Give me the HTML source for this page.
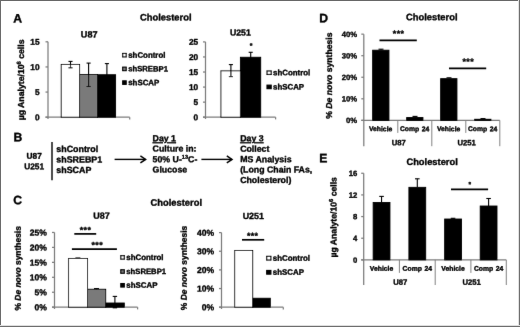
<!DOCTYPE html>
<html lang="en">
<head>
<meta charset="utf-8">
<title>Cholesterol figure</title>
<style>
html,body{margin:0;padding:0;background:#fff;}
body{width:520px;height:327px;overflow:hidden;position:relative;}
svg{position:absolute;left:0;top:0;display:block;}
svg text{font-family:"Liberation Sans", Arial, Helvetica, sans-serif;font-weight:bold;fill:#000;stroke:#000;stroke-width:0.36px;stroke-linejoin:round;text-rendering:geometricPrecision;}
</style>
</head>
<body>
<svg width="520" height="327" viewBox="0 0 520 327">
<defs><filter id="soft" x="0" y="0" width="520" height="327" filterUnits="userSpaceOnUse"><feConvolveMatrix order="3" kernelMatrix="0.0035 0.0521 0.0035 0.0521 0.7778 0.0521 0.0035 0.0521 0.0035" edgeMode="none"/></filter></defs>
<g filter="url(#soft)">
<text x="13.30" y="22.47" transform="rotate(0.04 13.30 22.47)" font-size="12.2" text-anchor="start" >A</text>
<text x="13.40" y="141.27" transform="rotate(0.04 13.40 141.27)" font-size="12.2" text-anchor="start" >B</text>
<text x="13.30" y="204.27" transform="rotate(0.04 13.30 204.27)" font-size="12.2" text-anchor="start" >C</text>
<text x="319.30" y="22.17" transform="rotate(0.04 319.30 22.17)" font-size="12.2" text-anchor="start" >D</text>
<text x="319.30" y="162.17" transform="rotate(0.04 319.30 162.17)" font-size="12.2" text-anchor="start" >E</text>
<text x="165.80" y="20.55" transform="rotate(0.04 165.80 20.55)" font-size="9.35" text-anchor="middle" >Cholesterol</text>
<text x="176.30" y="205.85" transform="rotate(0.04 176.30 205.85)" font-size="9.35" text-anchor="middle" >Cholesterol</text>
<text x="431.80" y="20.35" transform="rotate(0.04 431.80 20.35)" font-size="9.35" text-anchor="middle" >Cholesterol</text>
<text x="432.10" y="165.05" transform="rotate(0.04 432.10 165.05)" font-size="9.35" text-anchor="middle" >Cholesterol</text>
<text x="89.20" y="37.46" transform="rotate(0.04 89.20 37.46)" font-size="9.1" text-anchor="middle" >U87</text>
<text x="240.40" y="35.41" transform="rotate(0.04 240.40 35.41)" font-size="8.7" text-anchor="middle" >U251</text>
<text x="101.40" y="218.82" transform="rotate(0.04 101.40 218.82)" font-size="9.0" text-anchor="middle" >U87</text>
<text x="253.30" y="218.99" transform="rotate(0.04 253.30 218.99)" font-size="8.9" text-anchor="middle" >U251</text>
<line x1="48.00" y1="41.81" x2="48.00" y2="119.00" stroke="#7c7c7c" stroke-width="1.25" />
<line x1="45.50" y1="117.20" x2="129.70" y2="117.20" stroke="#7c7c7c" stroke-width="1.25" />
<line x1="129.70" y1="117.20" x2="129.70" y2="119.40" stroke="#7c7c7c" stroke-width="1.25" />
<line x1="45.50" y1="117.20" x2="48.00" y2="117.20" stroke="#7c7c7c" stroke-width="1.25" />
<text x="39.60" y="120.17" transform="rotate(0.04 39.60 120.17)" font-size="8.3" text-anchor="end" >0</text>
<line x1="45.50" y1="92.07" x2="48.00" y2="92.07" stroke="#7c7c7c" stroke-width="1.25" />
<text x="39.60" y="95.04" transform="rotate(0.04 39.60 95.04)" font-size="8.3" text-anchor="end" >5</text>
<line x1="45.50" y1="66.94" x2="48.00" y2="66.94" stroke="#7c7c7c" stroke-width="1.25" />
<text x="39.60" y="69.91" transform="rotate(0.04 39.60 69.91)" font-size="8.3" text-anchor="end" >10</text>
<line x1="45.50" y1="41.81" x2="48.00" y2="41.81" stroke="#7c7c7c" stroke-width="1.25" />
<text x="39.60" y="44.78" transform="rotate(0.04 39.60 44.78)" font-size="8.3" text-anchor="end" >15</text>
<rect x="61.20" y="64.43" width="18.40" height="52.77" fill="#fff" stroke="#000" stroke-width="0.9"/>
<rect x="79.60" y="74.48" width="17.90" height="42.72" fill="#7a7a7a" stroke="#000" stroke-width="0.9"/>
<rect x="97.50" y="74.73" width="18.10" height="42.47" fill="#000" stroke="#000" stroke-width="0.9"/>
<line x1="70.50" y1="61.40" x2="70.50" y2="67.80" stroke="#000" stroke-width="1.1" />
<line x1="68.45" y1="61.40" x2="72.55" y2="61.40" stroke="#000" stroke-width="1.1" />
<line x1="68.45" y1="67.80" x2="72.55" y2="67.80" stroke="#000" stroke-width="1.1" />
<line x1="88.60" y1="63.10" x2="88.60" y2="86.50" stroke="#000" stroke-width="1.1" />
<line x1="86.55" y1="63.10" x2="90.65" y2="63.10" stroke="#000" stroke-width="1.1" />
<line x1="86.55" y1="86.50" x2="90.65" y2="86.50" stroke="#000" stroke-width="1.1" />
<line x1="106.90" y1="63.60" x2="106.90" y2="86.00" stroke="#000" stroke-width="1.1" />
<line x1="104.85" y1="63.60" x2="108.95" y2="63.60" stroke="#000" stroke-width="1.1" />
<line x1="104.85" y1="86.00" x2="108.95" y2="86.00" stroke="#000" stroke-width="1.1" />
<rect x="122.70" y="53.45" width="3.50" height="3.50" fill="#fff" stroke="#000" stroke-width="1.15"/>
<text x="128.20" y="57.73" transform="rotate(0.04 128.20 57.73)" font-size="7.9" text-anchor="start" >shControl</text>
<rect x="122.70" y="67.15" width="3.50" height="3.50" fill="#7a7a7a" stroke="#000" stroke-width="1.15"/>
<text x="128.20" y="71.36" transform="rotate(0.04 128.20 71.36)" font-size="7.702500000000001" text-anchor="start" >shSREBP1</text>
<rect x="122.70" y="80.85" width="3.50" height="3.50" fill="#000" stroke="#000" stroke-width="1.15"/>
<text x="128.20" y="85.13" transform="rotate(0.04 128.20 85.13)" font-size="7.9" text-anchor="start" >shSCAP</text>
<text transform="translate(24.00,79.90) rotate(-89.96)" font-size="8.7" text-anchor="middle" >&#181;g Analyte/10<tspan font-size="5.8" dy="-3.3">6</tspan><tspan dy="3.3"> cells</tspan></text>
<line x1="205.50" y1="41.90" x2="205.50" y2="119.00" stroke="#7c7c7c" stroke-width="1.25" />
<line x1="203.00" y1="117.20" x2="275.60" y2="117.20" stroke="#7c7c7c" stroke-width="1.25" />
<line x1="275.60" y1="117.20" x2="275.60" y2="119.40" stroke="#7c7c7c" stroke-width="1.25" />
<line x1="203.00" y1="117.20" x2="205.50" y2="117.20" stroke="#7c7c7c" stroke-width="1.25" />
<text x="198.20" y="120.17" transform="rotate(0.04 198.20 120.17)" font-size="8.3" text-anchor="end" >0</text>
<line x1="203.00" y1="102.14" x2="205.50" y2="102.14" stroke="#7c7c7c" stroke-width="1.25" />
<text x="198.20" y="105.11" transform="rotate(0.04 198.20 105.11)" font-size="8.3" text-anchor="end" >5</text>
<line x1="203.00" y1="87.08" x2="205.50" y2="87.08" stroke="#7c7c7c" stroke-width="1.25" />
<text x="198.20" y="90.05" transform="rotate(0.04 198.20 90.05)" font-size="8.3" text-anchor="end" >10</text>
<line x1="203.00" y1="72.02" x2="205.50" y2="72.02" stroke="#7c7c7c" stroke-width="1.25" />
<text x="198.20" y="74.99" transform="rotate(0.04 198.20 74.99)" font-size="8.3" text-anchor="end" >15</text>
<line x1="203.00" y1="56.96" x2="205.50" y2="56.96" stroke="#7c7c7c" stroke-width="1.25" />
<text x="198.20" y="59.93" transform="rotate(0.04 198.20 59.93)" font-size="8.3" text-anchor="end" >20</text>
<line x1="203.00" y1="41.90" x2="205.50" y2="41.90" stroke="#7c7c7c" stroke-width="1.25" />
<text x="198.20" y="44.87" transform="rotate(0.04 198.20 44.87)" font-size="8.3" text-anchor="end" >25</text>
<rect x="220.90" y="70.82" width="19.50" height="46.38" fill="#fff" stroke="#000" stroke-width="0.9"/>
<rect x="240.40" y="57.26" width="20.30" height="59.94" fill="#000" stroke="#000" stroke-width="0.9"/>
<line x1="230.90" y1="64.60" x2="230.90" y2="76.60" stroke="#000" stroke-width="1.1" />
<line x1="228.85" y1="64.60" x2="232.95" y2="64.60" stroke="#000" stroke-width="1.1" />
<line x1="228.85" y1="76.60" x2="232.95" y2="76.60" stroke="#000" stroke-width="1.1" />
<line x1="250.70" y1="52.30" x2="250.70" y2="58.00" stroke="#000" stroke-width="1.1" />
<line x1="248.65" y1="52.30" x2="252.75" y2="52.30" stroke="#000" stroke-width="1.1" />
<text x="251.00" y="48.01" transform="rotate(0.04 251.00 48.01)" font-size="7.0" text-anchor="middle" >*</text>
<rect x="267.00" y="70.95" width="4.20" height="3.50" fill="#fff" stroke="#000" stroke-width="1.15"/>
<text x="273.00" y="75.23" transform="rotate(0.04 273.00 75.23)" font-size="7.9" text-anchor="start" >shControl</text>
<rect x="267.00" y="85.15" width="4.20" height="3.50" fill="#000" stroke="#000" stroke-width="1.15"/>
<text x="273.00" y="89.43" transform="rotate(0.04 273.00 89.43)" font-size="7.9" text-anchor="start" >shSCAP</text>
<text x="34.20" y="158.87" transform="rotate(0.04 34.20 158.87)" font-size="8.3" text-anchor="middle" >U87</text>
<text x="34.20" y="169.37" transform="rotate(0.04 34.20 169.37)" font-size="8.3" text-anchor="middle" >U251</text>
<line x1="52.00" y1="142.00" x2="52.00" y2="180.20" stroke="#000" stroke-width="1.4" />
<text x="56.30" y="152.09" transform="rotate(0.04 56.30 152.09)" font-size="8.9" text-anchor="start" >shControl</text>
<text x="56.30" y="162.49" transform="rotate(0.04 56.30 162.49)" font-size="8.9" text-anchor="start" >shSREBP1</text>
<text x="56.30" y="172.89" transform="rotate(0.04 56.30 172.89)" font-size="8.9" text-anchor="start" >shSCAP</text>
<line x1="114.60" y1="159.40" x2="145.60" y2="159.40" stroke="#000" stroke-width="1.4" />
<polyline points="140.40,155.90 145.60,159.40 140.40,162.90" fill="none" stroke="#000" stroke-width="1.5" stroke-linejoin="miter"/>
<line x1="201.40" y1="159.40" x2="232.00" y2="159.40" stroke="#000" stroke-width="1.4" />
<polyline points="226.80,155.90 232.00,159.40 226.80,162.90" fill="none" stroke="#000" stroke-width="1.5" stroke-linejoin="miter"/>
<text x="152.60" y="141.34" transform="rotate(0.04 152.60 141.34)" font-size="8.78" text-anchor="start" text-decoration="underline" >Day 1</text>
<text x="152.60" y="151.54" transform="rotate(0.04 152.60 151.54)" font-size="8.78" text-anchor="start" >Culture in:</text>
<text x="152.60" y="162.14" transform="rotate(0.04 152.60 162.14)" font-size="8.78" text-anchor="start" >50% U-<tspan font-size="5.6" dy="-3.4">13</tspan><tspan dy="3.4">C-</tspan></text>
<text x="152.60" y="172.54" transform="rotate(0.04 152.60 172.54)" font-size="8.78" text-anchor="start" >Glucose</text>
<text x="240.20" y="141.34" transform="rotate(0.04 240.20 141.34)" font-size="8.78" text-anchor="start" text-decoration="underline" >Day 3</text>
<text x="240.20" y="151.74" transform="rotate(0.04 240.20 151.74)" font-size="8.78" text-anchor="start" >Collect</text>
<text x="240.20" y="162.14" transform="rotate(0.04 240.20 162.14)" font-size="8.78" text-anchor="start" >MS Analysis</text>
<text x="240.20" y="172.54" transform="rotate(0.04 240.20 172.54)" font-size="8.78" text-anchor="start" >(Long Chain FAs,</text>
<text x="240.20" y="182.94" transform="rotate(0.04 240.20 182.94)" font-size="8.78" text-anchor="start" >Cholesterol)</text>
<line x1="54.50" y1="232.45" x2="54.50" y2="309.00" stroke="#7c7c7c" stroke-width="1.25" />
<line x1="52.00" y1="307.20" x2="137.60" y2="307.20" stroke="#7c7c7c" stroke-width="1.25" />
<line x1="137.60" y1="307.20" x2="137.60" y2="309.40" stroke="#7c7c7c" stroke-width="1.25" />
<line x1="52.00" y1="307.20" x2="54.50" y2="307.20" stroke="#7c7c7c" stroke-width="1.25" />
<text x="46.90" y="310.26" transform="rotate(0.04 46.90 310.26)" font-size="8.55" text-anchor="end" >0%</text>
<line x1="52.00" y1="292.25" x2="54.50" y2="292.25" stroke="#7c7c7c" stroke-width="1.25" />
<text x="46.90" y="295.31" transform="rotate(0.04 46.90 295.31)" font-size="8.55" text-anchor="end" >5%</text>
<line x1="52.00" y1="277.30" x2="54.50" y2="277.30" stroke="#7c7c7c" stroke-width="1.25" />
<text x="46.90" y="280.36" transform="rotate(0.04 46.90 280.36)" font-size="8.55" text-anchor="end" >10%</text>
<line x1="52.00" y1="262.35" x2="54.50" y2="262.35" stroke="#7c7c7c" stroke-width="1.25" />
<text x="46.90" y="265.41" transform="rotate(0.04 46.90 265.41)" font-size="8.55" text-anchor="end" >15%</text>
<line x1="52.00" y1="247.40" x2="54.50" y2="247.40" stroke="#7c7c7c" stroke-width="1.25" />
<text x="46.90" y="250.46" transform="rotate(0.04 46.90 250.46)" font-size="8.55" text-anchor="end" >20%</text>
<line x1="52.00" y1="232.45" x2="54.50" y2="232.45" stroke="#7c7c7c" stroke-width="1.25" />
<text x="46.90" y="235.51" transform="rotate(0.04 46.90 235.51)" font-size="8.55" text-anchor="end" >25%</text>
<rect x="68.60" y="258.46" width="18.90" height="48.74" fill="#fff" stroke="#000" stroke-width="0.9"/>
<rect x="87.50" y="289.26" width="18.20" height="17.94" fill="#7a7a7a" stroke="#000" stroke-width="0.9"/>
<rect x="105.70" y="303.01" width="18.60" height="4.19" fill="#000" stroke="#000" stroke-width="0.9"/>
<line x1="77.90" y1="258.00" x2="77.90" y2="258.60" stroke="#000" stroke-width="1.1" />
<line x1="75.40" y1="258.00" x2="80.40" y2="258.00" stroke="#000" stroke-width="1.1" />
<line x1="96.50" y1="288.60" x2="96.50" y2="289.30" stroke="#000" stroke-width="1.1" />
<line x1="94.00" y1="288.60" x2="99.00" y2="288.60" stroke="#000" stroke-width="1.1" />
<line x1="114.90" y1="296.40" x2="114.90" y2="307.80" stroke="#000" stroke-width="1.1" />
<line x1="112.70" y1="296.40" x2="117.10" y2="296.40" stroke="#000" stroke-width="1.1" />
<line x1="112.70" y1="307.80" x2="117.10" y2="307.80" stroke="#000" stroke-width="1.1" />
<line x1="74.30" y1="233.90" x2="96.20" y2="233.90" stroke="#000" stroke-width="1.7" />
<text x="85.50" y="233.05" transform="rotate(0.04 85.50 233.05)" font-size="8.8" text-anchor="middle" letter-spacing="0.42" >***</text>
<line x1="71.90" y1="249.20" x2="116.90" y2="249.20" stroke="#000" stroke-width="1.7" />
<text x="97.30" y="248.05" transform="rotate(0.04 97.30 248.05)" font-size="8.8" text-anchor="middle" letter-spacing="0.42" >***</text>
<rect x="120.80" y="255.65" width="3.50" height="3.50" fill="#fff" stroke="#000" stroke-width="1.15"/>
<text x="126.30" y="259.93" transform="rotate(0.04 126.30 259.93)" font-size="7.9" text-anchor="start" >shControl</text>
<rect x="120.80" y="269.75" width="3.50" height="3.50" fill="#7a7a7a" stroke="#000" stroke-width="1.15"/>
<text x="126.30" y="273.96" transform="rotate(0.04 126.30 273.96)" font-size="7.702500000000001" text-anchor="start" >shSREBP1</text>
<rect x="120.80" y="283.55" width="3.50" height="3.50" fill="#000" stroke="#000" stroke-width="1.15"/>
<text x="126.30" y="287.83" transform="rotate(0.04 126.30 287.83)" font-size="7.9" text-anchor="start" >shSCAP</text>
<text transform="translate(20.80,268.30) rotate(-89.96)" font-size="8.45" text-anchor="middle" >% <tspan font-style="italic">De novo</tspan> synthesis</text>
<line x1="221.50" y1="232.60" x2="221.50" y2="309.00" stroke="#7c7c7c" stroke-width="1.25" />
<line x1="219.00" y1="307.20" x2="283.30" y2="307.20" stroke="#7c7c7c" stroke-width="1.25" />
<line x1="283.30" y1="307.20" x2="283.30" y2="309.40" stroke="#7c7c7c" stroke-width="1.25" />
<line x1="219.00" y1="307.20" x2="221.50" y2="307.20" stroke="#7c7c7c" stroke-width="1.25" />
<text x="214.20" y="310.26" transform="rotate(0.04 214.20 310.26)" font-size="8.55" text-anchor="end" >0%</text>
<line x1="219.00" y1="288.55" x2="221.50" y2="288.55" stroke="#7c7c7c" stroke-width="1.25" />
<text x="214.20" y="291.61" transform="rotate(0.04 214.20 291.61)" font-size="8.55" text-anchor="end" >10%</text>
<line x1="219.00" y1="269.90" x2="221.50" y2="269.90" stroke="#7c7c7c" stroke-width="1.25" />
<text x="214.20" y="272.96" transform="rotate(0.04 214.20 272.96)" font-size="8.55" text-anchor="end" >20%</text>
<line x1="219.00" y1="251.25" x2="221.50" y2="251.25" stroke="#7c7c7c" stroke-width="1.25" />
<text x="214.20" y="254.31" transform="rotate(0.04 214.20 254.31)" font-size="8.55" text-anchor="end" >30%</text>
<line x1="219.00" y1="232.60" x2="221.50" y2="232.60" stroke="#7c7c7c" stroke-width="1.25" />
<text x="214.20" y="235.66" transform="rotate(0.04 214.20 235.66)" font-size="8.55" text-anchor="end" >40%</text>
<rect x="234.70" y="250.50" width="18.00" height="56.70" fill="#fff" stroke="#000" stroke-width="0.9"/>
<rect x="252.70" y="298.25" width="17.60" height="8.95" fill="#000" stroke="#000" stroke-width="0.9"/>
<line x1="242.00" y1="239.80" x2="264.20" y2="239.80" stroke="#000" stroke-width="1.7" />
<text x="252.70" y="238.65" transform="rotate(0.04 252.70 238.65)" font-size="8.8" text-anchor="middle" letter-spacing="0.42" >***</text>
<rect x="266.70" y="256.35" width="4.20" height="3.70" fill="#fff" stroke="#000" stroke-width="1.15"/>
<text x="272.80" y="260.73" transform="rotate(0.04 272.80 260.73)" font-size="7.9" text-anchor="start" >shControl</text>
<rect x="266.70" y="270.45" width="4.20" height="3.70" fill="#000" stroke="#000" stroke-width="1.15"/>
<text x="272.80" y="274.83" transform="rotate(0.04 272.80 274.83)" font-size="7.9" text-anchor="start" >shSCAP</text>
<text transform="translate(186.70,268.00) rotate(-89.96)" font-size="8.45" text-anchor="middle" >% <tspan font-style="italic">De novo</tspan> synthesis</text>
<line x1="363.80" y1="34.15" x2="363.80" y2="146.20" stroke="#7c7c7c" stroke-width="1.25" />
<line x1="361.30" y1="120.35" x2="499.80" y2="120.35" stroke="#7c7c7c" stroke-width="1.25" />
<line x1="361.30" y1="120.35" x2="363.80" y2="120.35" stroke="#7c7c7c" stroke-width="1.25" />
<text x="357.20" y="123.11" transform="rotate(0.04 357.20 123.11)" font-size="7.7" text-anchor="end" >0%</text>
<line x1="361.30" y1="98.80" x2="363.80" y2="98.80" stroke="#7c7c7c" stroke-width="1.25" />
<text x="357.20" y="101.56" transform="rotate(0.04 357.20 101.56)" font-size="7.7" text-anchor="end" >10%</text>
<line x1="361.30" y1="77.25" x2="363.80" y2="77.25" stroke="#7c7c7c" stroke-width="1.25" />
<text x="357.20" y="80.01" transform="rotate(0.04 357.20 80.01)" font-size="7.7" text-anchor="end" >20%</text>
<line x1="361.30" y1="55.70" x2="363.80" y2="55.70" stroke="#7c7c7c" stroke-width="1.25" />
<text x="357.20" y="58.46" transform="rotate(0.04 357.20 58.46)" font-size="7.7" text-anchor="end" >30%</text>
<line x1="361.30" y1="34.15" x2="363.80" y2="34.15" stroke="#7c7c7c" stroke-width="1.25" />
<text x="357.20" y="36.91" transform="rotate(0.04 357.20 36.91)" font-size="7.7" text-anchor="end" >40%</text>
<line x1="397.80" y1="120.35" x2="397.80" y2="132.90" stroke="#7c7c7c" stroke-width="0.95" />
<line x1="431.80" y1="120.35" x2="431.80" y2="146.20" stroke="#7c7c7c" stroke-width="0.95" />
<line x1="465.80" y1="120.35" x2="465.80" y2="132.90" stroke="#7c7c7c" stroke-width="0.95" />
<line x1="499.80" y1="120.35" x2="499.80" y2="146.20" stroke="#7c7c7c" stroke-width="0.95" />
<rect x="372.65" y="50.20" width="16.30" height="70.15" fill="#000" stroke="#000" stroke-width="0.9"/>
<text x="380.60" y="131.13" transform="rotate(0.04 380.60 131.13)" font-size="6.8" text-anchor="middle" word-spacing="0.7" >Vehicle</text>
<rect x="406.65" y="117.55" width="16.30" height="2.80" fill="#000" stroke="#000" stroke-width="0.9"/>
<text x="414.60" y="131.13" transform="rotate(0.04 414.60 131.13)" font-size="6.8" text-anchor="middle" word-spacing="0.7" >Comp 24</text>
<rect x="440.65" y="78.65" width="16.30" height="41.70" fill="#000" stroke="#000" stroke-width="0.9"/>
<text x="448.60" y="131.13" transform="rotate(0.04 448.60 131.13)" font-size="6.8" text-anchor="middle" word-spacing="0.7" >Vehicle</text>
<rect x="474.65" y="119.27" width="16.30" height="1.08" fill="#000" stroke="#000" stroke-width="0.9"/>
<text x="482.60" y="131.13" transform="rotate(0.04 482.60 131.13)" font-size="6.8" text-anchor="middle" word-spacing="0.7" >Comp 24</text>
<line x1="381.00" y1="49.20" x2="381.00" y2="50.00" stroke="#000" stroke-width="1.1" />
<line x1="378.50" y1="49.20" x2="383.50" y2="49.20" stroke="#000" stroke-width="1.1" />
<line x1="415.00" y1="116.40" x2="415.00" y2="117.50" stroke="#000" stroke-width="1.1" />
<line x1="412.50" y1="116.40" x2="417.50" y2="116.40" stroke="#000" stroke-width="1.1" />
<line x1="449.00" y1="77.80" x2="449.00" y2="78.30" stroke="#000" stroke-width="1.1" />
<line x1="446.50" y1="77.80" x2="451.50" y2="77.80" stroke="#000" stroke-width="1.1" />
<line x1="483.00" y1="118.60" x2="483.00" y2="119.30" stroke="#000" stroke-width="1.1" />
<line x1="480.50" y1="118.60" x2="485.50" y2="118.60" stroke="#000" stroke-width="1.1" />
<text x="398.80" y="145.26" transform="rotate(0.04 398.80 145.26)" font-size="7.7" text-anchor="middle" >U87</text>
<text x="466.60" y="145.26" transform="rotate(0.04 466.60 145.26)" font-size="7.7" text-anchor="middle" >U251</text>
<line x1="379.50" y1="40.40" x2="416.80" y2="40.40" stroke="#000" stroke-width="1.7" />
<text x="398.60" y="36.55" transform="rotate(0.04 398.60 36.55)" font-size="8.8" text-anchor="middle" letter-spacing="0.42" >***</text>
<line x1="449.00" y1="68.30" x2="486.20" y2="68.30" stroke="#000" stroke-width="1.7" />
<text x="468.30" y="64.45" transform="rotate(0.04 468.30 64.45)" font-size="8.8" text-anchor="middle" letter-spacing="0.42" >***</text>
<text transform="translate(332.00,75.60) rotate(-89.96)" font-size="8.65" text-anchor="middle" >% <tspan font-style="italic">De novo</tspan> synthesis</text>
<line x1="363.70" y1="173.26" x2="363.70" y2="285.00" stroke="#7c7c7c" stroke-width="1.25" />
<line x1="361.20" y1="259.90" x2="506.30" y2="259.90" stroke="#7c7c7c" stroke-width="1.25" />
<line x1="361.20" y1="259.90" x2="363.70" y2="259.90" stroke="#7c7c7c" stroke-width="1.25" />
<text x="357.20" y="262.66" transform="rotate(0.04 357.20 262.66)" font-size="7.7" text-anchor="end" >0</text>
<line x1="361.20" y1="238.24" x2="363.70" y2="238.24" stroke="#7c7c7c" stroke-width="1.25" />
<text x="357.20" y="241.00" transform="rotate(0.04 357.20 241.00)" font-size="7.7" text-anchor="end" >4</text>
<line x1="361.20" y1="216.58" x2="363.70" y2="216.58" stroke="#7c7c7c" stroke-width="1.25" />
<text x="357.20" y="219.34" transform="rotate(0.04 357.20 219.34)" font-size="7.7" text-anchor="end" >8</text>
<line x1="361.20" y1="194.92" x2="363.70" y2="194.92" stroke="#7c7c7c" stroke-width="1.25" />
<text x="357.20" y="197.68" transform="rotate(0.04 357.20 197.68)" font-size="7.7" text-anchor="end" >12</text>
<line x1="361.20" y1="173.26" x2="363.70" y2="173.26" stroke="#7c7c7c" stroke-width="1.25" />
<text x="357.20" y="176.02" transform="rotate(0.04 357.20 176.02)" font-size="7.7" text-anchor="end" >16</text>
<line x1="399.40" y1="259.90" x2="399.40" y2="272.90" stroke="#7c7c7c" stroke-width="0.95" />
<line x1="435.20" y1="259.90" x2="435.20" y2="285.00" stroke="#7c7c7c" stroke-width="0.95" />
<line x1="470.90" y1="259.90" x2="470.90" y2="272.90" stroke="#7c7c7c" stroke-width="0.95" />
<line x1="506.30" y1="259.90" x2="506.30" y2="285.00" stroke="#7c7c7c" stroke-width="0.95" />
<rect x="373.15" y="202.50" width="16.80" height="57.40" fill="#000" stroke="#000" stroke-width="0.9"/>
<line x1="381.55" y1="196.40" x2="381.55" y2="202.50" stroke="#000" stroke-width="1.1" />
<line x1="379.25" y1="196.40" x2="383.85" y2="196.40" stroke="#000" stroke-width="1.1" />
<text x="381.55" y="270.73" transform="rotate(0.04 381.55 270.73)" font-size="6.8" text-anchor="middle" word-spacing="0.7" >Vehicle</text>
<rect x="408.90" y="187.34" width="16.80" height="72.56" fill="#000" stroke="#000" stroke-width="0.9"/>
<line x1="417.30" y1="178.80" x2="417.30" y2="187.34" stroke="#000" stroke-width="1.1" />
<line x1="415.00" y1="178.80" x2="419.60" y2="178.80" stroke="#000" stroke-width="1.1" />
<text x="417.30" y="270.73" transform="rotate(0.04 417.30 270.73)" font-size="6.8" text-anchor="middle" word-spacing="0.7" >Comp 24</text>
<rect x="444.65" y="219.02" width="16.80" height="40.88" fill="#000" stroke="#000" stroke-width="0.9"/>
<line x1="453.05" y1="218.30" x2="453.05" y2="219.02" stroke="#000" stroke-width="1.1" />
<line x1="450.75" y1="218.30" x2="455.35" y2="218.30" stroke="#000" stroke-width="1.1" />
<text x="453.05" y="270.73" transform="rotate(0.04 453.05 270.73)" font-size="6.8" text-anchor="middle" word-spacing="0.7" >Vehicle</text>
<rect x="480.20" y="206.02" width="16.80" height="53.88" fill="#000" stroke="#000" stroke-width="0.9"/>
<line x1="488.60" y1="198.50" x2="488.60" y2="206.02" stroke="#000" stroke-width="1.1" />
<line x1="486.30" y1="198.50" x2="490.90" y2="198.50" stroke="#000" stroke-width="1.1" />
<text x="488.60" y="270.73" transform="rotate(0.04 488.60 270.73)" font-size="6.8" text-anchor="middle" word-spacing="0.7" >Comp 24</text>
<text x="400.30" y="284.86" transform="rotate(0.04 400.30 284.86)" font-size="7.7" text-anchor="middle" >U87</text>
<text x="471.60" y="284.86" transform="rotate(0.04 471.60 284.86)" font-size="7.7" text-anchor="middle" >U251</text>
<line x1="451.00" y1="189.35" x2="488.10" y2="189.35" stroke="#000" stroke-width="1.7" />
<text x="469.70" y="186.46" transform="rotate(0.04 469.70 186.46)" font-size="6.6" text-anchor="middle" >*</text>
<text transform="translate(336.40,217.30) rotate(-89.96)" font-size="8.65" text-anchor="middle" >&#181;g Analyte/10<tspan font-size="5.8" dy="-3.3">6</tspan><tspan dy="3.3"> cells</tspan></text>
</g>
<rect x="0" y="0" width="520" height="1" fill="#666"/>
<rect x="0" y="0" width="1" height="327" fill="#6a6a6a"/>
<rect x="518" y="0" width="1" height="327" fill="#e2e2e2"/>
<rect x="519" y="0" width="1" height="327" fill="#6e6e6e"/>
<rect x="0" y="325" width="520" height="1" fill="#dedede"/>
<rect x="0" y="326" width="520" height="1" fill="#6e6e6e"/>
</svg>
</body>
</html>
